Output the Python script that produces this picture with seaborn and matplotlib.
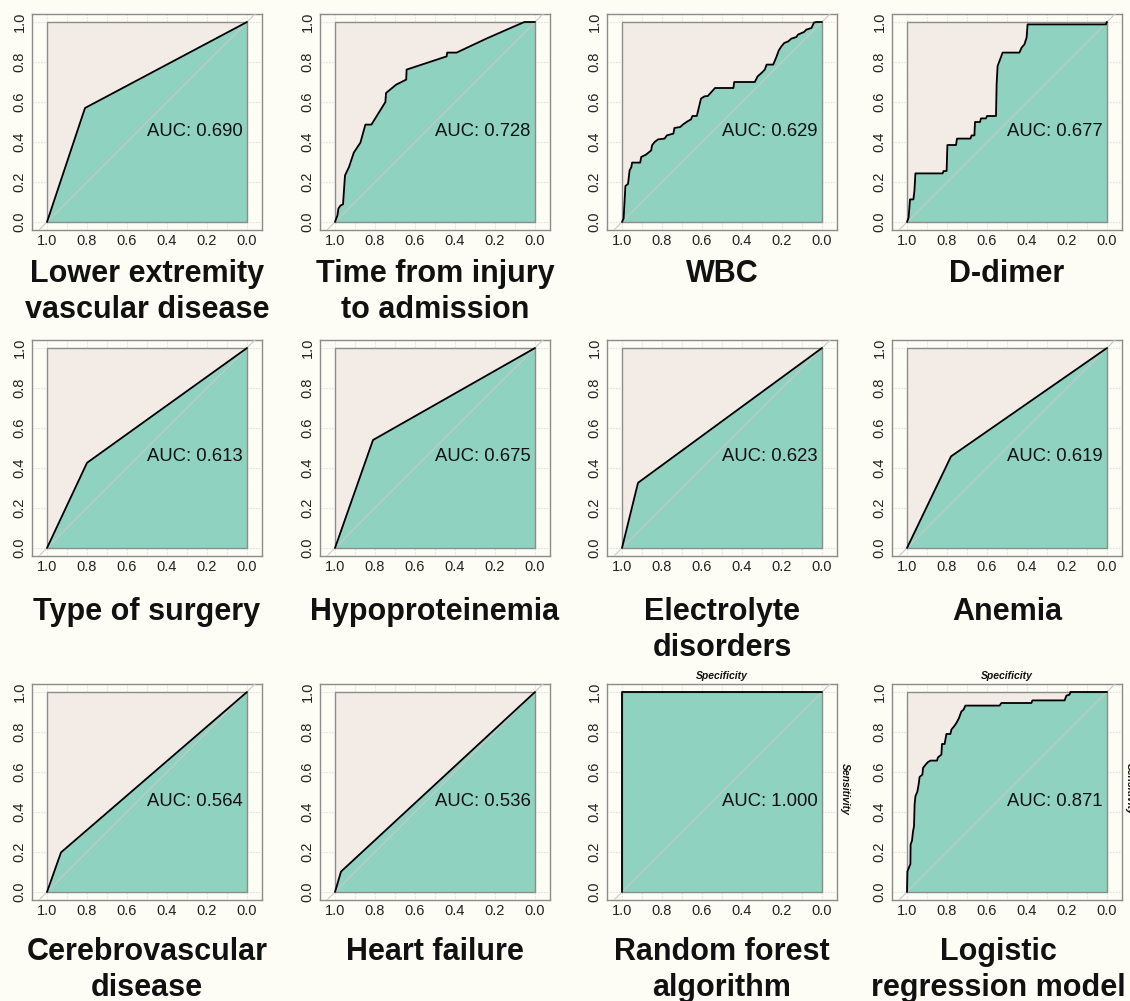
import numpy as np
import pandas as pd
import matplotlib
matplotlib.use("Agg")
import matplotlib.pyplot as plt
import seaborn as sns

# ---- panel titles and AUC values ----
titles = [
    "Lower extremity\nvascular disease", "Time from injury\nto admission", "WBC", "D-dimer",
    "Type of surgery", "Hypoproteinemia", "Electrolyte\ndisorders", "Anemia",
    "Cerebrovascular\ndisease", "Heart failure", "Random forest\nalgorithm", "Logistic\nregression model",
]
auc_values = [0.690, 0.728, 0.629, 0.677, 0.613, 0.675, 0.623, 0.619, 0.564, 0.536, 1.000, 0.871]

# ---- ROC coordinates (specificity, sensitivity) ----
spec_lower_ext = [1.0, 0.81, 0.0]
sens_lower_ext = [0.0, 0.57, 1.0]

spec_time = [1.0, 0.988, 0.983, 0.972, 0.96, 0.95, 0.93, 0.906, 0.873, 0.848, 0.818, 0.748, 0.745,
             0.694, 0.644, 0.642, 0.442, 0.439, 0.392, 0.243, 0.111, 0.053, 0.0]
sens_time = [0.0, 0.033, 0.067, 0.083, 0.088, 0.233, 0.275, 0.347, 0.397, 0.487, 0.487, 0.60, 0.645,
             0.687, 0.712, 0.762, 0.828, 0.847, 0.847, 0.917, 0.975, 1.0, 1.0]

spec_wbc = [1.0, 0.992, 0.983, 0.97, 0.962, 0.953, 0.95, 0.909, 0.904, 0.88, 0.854, 0.85, 0.837, 0.82,
            0.787, 0.776, 0.743, 0.738, 0.709, 0.696, 0.673, 0.655, 0.648, 0.626, 0.605, 0.588, 0.571,
            0.535, 0.443, 0.439, 0.336, 0.322, 0.306, 0.286, 0.277, 0.244, 0.228, 0.216, 0.203, 0.189,
            0.169, 0.153, 0.128, 0.12, 0.09, 0.078, 0.053, 0.04, 0.028, 0.0]
sens_wbc = [0.0, 0.017, 0.18, 0.19, 0.258, 0.275, 0.297, 0.297, 0.325, 0.337, 0.358, 0.383, 0.40, 0.413,
            0.417, 0.433, 0.442, 0.47, 0.475, 0.487, 0.503, 0.513, 0.53, 0.53, 0.617, 0.628, 0.63,
            0.67, 0.67, 0.70, 0.70, 0.728, 0.742, 0.762, 0.787, 0.787, 0.825, 0.858, 0.878, 0.895,
            0.903, 0.917, 0.925, 0.937, 0.95, 0.962, 0.97, 0.997, 1.0, 1.0]

spec_ddimer = [1.0, 0.992, 0.985, 0.968, 0.963, 0.958, 0.822, 0.817, 0.802, 0.798, 0.755, 0.75, 0.683,
               0.677, 0.663, 0.66, 0.635, 0.63, 0.605, 0.60, 0.555, 0.552, 0.547, 0.533, 0.522, 0.438,
               0.427, 0.413, 0.402, 0.397, 0.005, 0.002, 0.0]
sens_ddimer = [0.0, 0.022, 0.113, 0.113, 0.155, 0.243, 0.243, 0.255, 0.255, 0.385, 0.385, 0.417, 0.417,
               0.433, 0.433, 0.50, 0.50, 0.518, 0.518, 0.53, 0.53, 0.688, 0.78, 0.817, 0.847, 0.847,
               0.872, 0.888, 0.922, 0.988, 0.988, 1.0, 1.0]

spec_surgery = [1.0, 0.80, 0.0]
sens_surgery = [0.0, 0.426, 1.0]

spec_hypopro = [1.0, 0.81, 0.0]
sens_hypopro = [0.0, 0.54, 1.0]

spec_electro = [1.0, 0.92, 0.0]
sens_electro = [0.0, 0.326, 1.0]

spec_anemia = [1.0, 0.78, 0.0]
sens_anemia = [0.0, 0.458, 1.0]

spec_cerebro = [1.0, 0.93, 0.0]
sens_cerebro = [0.0, 0.198, 1.0]

spec_heart = [1.0, 0.97, 0.0]
sens_heart = [0.0, 0.102, 1.0]

spec_rf = [1.0, 1.0, 0.0]
sens_rf = [0.0, 1.0, 1.0]

spec_logit = [1.0, 0.998, 0.99, 0.983, 0.982, 0.975, 0.97, 0.965, 0.962, 0.958, 0.948, 0.942, 0.937,
              0.923, 0.92, 0.907, 0.895, 0.882, 0.85, 0.845, 0.828, 0.825, 0.812, 0.803, 0.783, 0.778,
              0.765, 0.753, 0.74, 0.728, 0.717, 0.708, 0.537, 0.528, 0.378, 0.373, 0.212, 0.203, 0.187,
              0.183, 0.0]
sens_logit = [0.0, 0.103, 0.123, 0.14, 0.237, 0.257, 0.303, 0.328, 0.437, 0.478, 0.503, 0.537, 0.575,
              0.587, 0.62, 0.637, 0.65, 0.657, 0.657, 0.673, 0.687, 0.74, 0.74, 0.79, 0.79, 0.812,
              0.828, 0.845, 0.87, 0.903, 0.912, 0.932, 0.932, 0.945, 0.945, 0.958, 0.958, 0.982, 0.987,
              1.0, 1.0]

curves = [
    (spec_lower_ext, sens_lower_ext), (spec_time, sens_time), (spec_wbc, sens_wbc), (spec_ddimer, sens_ddimer),
    (spec_surgery, sens_surgery), (spec_hypopro, sens_hypopro), (spec_electro, sens_electro), (spec_anemia, sens_anemia),
    (spec_cerebro, sens_cerebro), (spec_heart, sens_heart), (spec_rf, sens_rf), (spec_logit, sens_logit),
]

# ---- styling ----
BG = "#FDFDF6"
BEIGE = "#F3ECE6"
TEAL = "#8FD2C0"
FRAME = "#8C8C8C"
GRID = "#D6D6D6"

sns.set_theme(style="white")
plt.rcParams["font.family"] = ["Liberation Sans", "DejaVu Sans"]

W, H = 1130, 1001
fig = plt.figure(figsize=(W / 100, H / 100), dpi=100, facecolor=BG)

col_left = [32, 320, 607, 892]
row_top = [14, 340, 684]
title_top = [259, 597, 937]
title_shift = {11: -9}
ax_w, ax_h = 230, 216

ticks = [1.0, 0.8, 0.6, 0.4, 0.2, 0.0]

for i, ((spec, sens), title, auc) in enumerate(zip(curves, titles, auc_values)):
    r, c = divmod(i, 4)
    left, top = col_left[c], row_top[r]
    ax = fig.add_axes([left / W, 1 - (top + ax_h) / H, ax_w / W, ax_h / H])
    ax.set_facecolor(BG)
    ax.set_xlim(1.075, -0.075)
    ax.set_ylim(-0.04, 1.04)

    ax.set_xticks(ticks)
    ax.set_xticklabels([f"{t:.1f}" for t in ticks])
    ax.set_xticks(np.arange(0, 1.01, 0.1), minor=True)
    ax.set_yticks(ticks)
    ax.set_yticklabels([f"{t:.1f}" for t in ticks])
    ax.tick_params(axis="x", which="both", length=0, pad=3, labelsize=10.5, colors="#222222")
    ax.tick_params(axis="y", which="both", length=0, pad=4, labelsize=10.5, colors="#222222",
                   labelrotation=90)
    for lab in ax.get_yticklabels():
        lab.set_va("center")

    ax.set_axisbelow(True)
    ax.grid(True, axis="x", which="both", color=GRID, lw=0.8, ls=":")
    ax.grid(True, axis="y", which="major", color=GRID, lw=0.8, ls=":")
    for sp in ax.spines.values():
        sp.set_color(FRAME)
        sp.set_linewidth(1.0)

    # ROC space and area under the curve
    ax.fill([1, 0, 0, 1], [0, 0, 1, 1], color=BEIGE, lw=0, zorder=1)
    ax.fill(np.r_[spec, 0.0], np.r_[sens, 0.0], color=TEAL, lw=0, zorder=2)
    ax.plot([1, 0, 0, 1, 1], [0, 0, 1, 1, 0], color=FRAME, lw=1.0, zorder=3)
    ax.plot([1.2, -0.2], [-0.2, 1.2], color="#C9C9C9", lw=0.8, zorder=4)

    df = pd.DataFrame({"Specificity": spec, "Sensitivity": sens})
    sns.lineplot(data=df, x="Specificity", y="Sensitivity", sort=False, estimator=None,
                 color="black", lw=1.3, ax=ax, zorder=5)
    ax.set_xlabel("")
    ax.set_ylabel("")

    ax.text(0.5, 0.455, f"AUC: {auc:.3f}", ha="left", va="center", fontsize=13.3,
            color="#111111", zorder=6)

    cx = (left + ax_w / 2 + title_shift.get(i, 0)) / W
    fig.text(cx, 1 - title_top[r] / H, title, ha="center", va="top", fontsize=22,
             fontweight="bold", color="#111111", linespacing=1.27)

    if i >= 10:
        fig.text((left + ax_w / 2) / W, 1 - (top - 8) / H, "Specificity", ha="center",
                 va="center", fontsize=7.5, fontweight="bold", fontstyle="italic", color="#111111")
        fig.text((left + ax_w + 8) / W, 1 - (top + 105) / H, "Sensitivity", ha="center",
                 va="center", rotation=-90, fontsize=7.5, fontweight="bold",
                 fontstyle="italic", color="#111111")

fig.savefig("out.png", dpi=100, facecolor=BG)
